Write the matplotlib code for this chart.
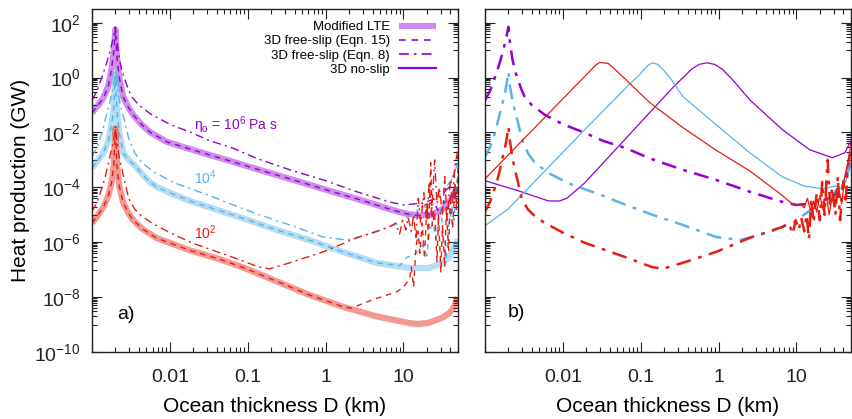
import numpy as np
import matplotlib
matplotlib.use("Agg")
import matplotlib.pyplot as plt
from matplotlib.ticker import FixedLocator, NullFormatter, FuncFormatter
from matplotlib.lines import Line2D

plt.rcParams['font.family'] = ['Liberation Sans', 'DejaVu Sans']
plt.rcParams['mathtext.fontset'] = 'custom'
plt.rcParams['mathtext.rm'] = 'Liberation Sans'

PURPLE = '#9400d3'
BLUE = '#56b4e9'
RED = '#e51e10'

# --- data (log10 of D in km, log10 of heat in GW) ---
# Modified LTE (3D free-slip Eqn. 15 follows these until it breaks away)
lte_purple_lgD = [-3.0, -2.92, -2.85, -2.79, -2.75, -2.72, -2.70, -2.68, -2.65, -2.60, -2.53, -2.47,
                  -2.36, -2.26, -2.04, -1.62, -1.19, -0.76, -0.33, 0.09, 0.53, 0.85, 1.05, 1.2, 1.35,
                  1.5, 1.6, 1.7]
lte_purple_lgP = [-1.28, -1.0, -0.72, -0.3, 0.3, 0.95, 1.75, 0.75, 0.0, -0.70, -1.1, -1.36,
                  -1.72, -1.98, -2.34, -2.71, -3.07, -3.44, -3.80, -4.16, -4.53, -4.82, -4.97, -5.03, -5.0,
                  -4.8, -4.5, -4.0]
lte_blue_lgD = [-3.0, -2.92, -2.85, -2.79, -2.75, -2.72, -2.70, -2.68, -2.65, -2.60, -2.53, -2.47,
                -2.36, -2.26, -2.17, -2.04, -1.74, -1.36, -1.06, -0.63, -0.21, 0.22, 0.65, 1.08, 1.33,
                1.5, 1.59, 1.7]
lte_blue_lgP = [-3.29, -3.0, -2.72, -2.3, -1.75, -1.1, 0.1, -1.2, -2.0, -2.75, -3.0, -3.15,
                -3.5, -3.8, -3.98, -4.15, -4.5, -4.85, -5.13, -5.55, -5.92, -6.35, -6.75, -6.94, -6.94,
                -6.75, -6.54, -5.9]
lte_red_lgD = [-3.0, -2.92, -2.85, -2.79, -2.75, -2.72, -2.70, -2.68, -2.65, -2.60, -2.53, -2.47,
               -2.36, -2.17, -1.74, -1.36, -1.06, -0.63, -0.21, 0.22, 0.65, 1.08, 1.2, 1.33,
               1.5, 1.59, 1.65, 1.7]
lte_red_lgP = [-5.3, -5.0, -4.7, -4.3, -3.85, -3.2, -1.85, -3.2, -3.95, -4.55, -4.95, -5.2,
               -5.5, -5.85, -6.3, -6.62, -6.92, -7.42, -7.92, -8.35, -8.7, -8.95, -8.98, -8.93,
               -8.75, -8.58, -8.35, -8.0]

# 3D free-slip (Eqn. 15): where each curve leaves the LTE curve
fs15_purple_tail_lgD = [1.2, 1.3, 1.36, 1.42, 1.47, 1.52, 1.57, 1.62, 1.66, 1.7]
fs15_purple_tail_lgP = [-5.03, -4.9, -5.1, -4.7, -5.0, -4.5, -4.8, -4.2, -4.4, -3.7]
fs15_blue_tail_lgD = [0.95, 1.04, 1.12, 1.2, 1.25, 1.3, 1.33, 1.38, 1.42, 1.45, 1.48, 1.52, 1.55,
                      1.58, 1.62, 1.65, 1.68, 1.7]
fs15_blue_tail_lgP = [-6.85, -6.55, -6.5, -6.3, -6.1, -6.5, -5.6, -5.3, -5.9, -5.0, -4.8, -6.0, -6.6,
                      -5.4, -4.7, -5.2, -3.9, -3.6]
fs15_red_tail_lgD = [0.33, 0.6, 0.91, 0.99, 1.05, 1.08, 1.1, 1.13, 1.16, 1.19, 1.21, 1.24, 1.27, 1.3,
                     1.32, 1.35, 1.37, 1.4, 1.43, 1.45, 1.48, 1.5, 1.53, 1.55, 1.58, 1.6, 1.63, 1.66,
                     1.68, 1.7]
fs15_red_tail_lgP = [-8.4, -8.1, -7.81, -7.66, -7.45, -7.3, -6.9, -7.63, -6.2, -5.6, -6.4, -5.3, -6.6,
                     -4.6, -6.0, -3.1, -5.4, -4.9, -6.7, -5.0, -7.1, -5.4, -6.9, -4.8, -6.3, -4.3, -5.5,
                     -3.9, -4.8, -3.3]

# 3D free-slip (Eqn. 8)
fs8_purple_lgD = [-3.0, -2.93, -2.87, -2.81, -2.77, -2.74, -2.72, -2.70, -2.68, -2.65, -2.62, -2.59,
                  -2.53, -2.49, -2.40, -2.23, -2.0, -1.72, -1.49, -1.2, -0.88, -0.46, -0.03, 0.4, 0.82,
                  1.0, 1.08, 1.26, 1.46, 1.59, 1.65, 1.7]
fs8_purple_lgP = [-0.83, -0.45, 0.03, 0.55, 0.95, 1.3, 1.55, 1.85, 1.3, 0.7, 0.3, 0.03,
                  -0.45, -0.7, -1.0, -1.36, -1.7, -2.01, -2.3, -2.56, -2.95, -3.36, -3.73, -4.16, -4.53,
                  -4.64, -4.62, -4.57, -4.35, -3.98, -3.5, -2.85]
fs8_blue_lgD = [-3.0, -2.93, -2.87, -2.83, -2.78, -2.74, -2.72, -2.70, -2.68, -2.65, -2.62, -2.57,
                -2.53, -2.45, -2.36, -2.2, -1.94, -1.49, -1.29, -0.88, -0.46, -0.03, 0.27, 0.62, 0.95,
                1.13, 1.25, 1.35, 1.45, 1.55, 1.62, 1.7]
fs8_blue_lgP = [-2.89, -2.5, -2.0, -1.54, -1.0, -0.5, -0.2, 0.21, -0.3, -0.8, -1.17, -1.7,
                -2.2, -2.75, -3.1, -3.45, -3.84, -4.3, -4.53, -4.97, -5.37, -5.81, -5.92, -5.66, -5.3,
                -4.93, -4.7, -4.75, -4.3, -4.0, -3.7, -3.1]
fs8_red_lgD = [-3.0, -2.93, -2.87, -2.83, -2.78, -2.74, -2.72, -2.70, -2.68, -2.65, -2.62, -2.57,
               -2.53, -2.45, -2.36, -2.23, -2.0, -1.72, -1.2, -0.86, -0.72, -0.46, -0.03, 0.4, 0.82,
               0.9, 0.95, 0.99, 1.03, 1.06, 1.1, 1.13, 1.16, 1.19, 1.22, 1.26, 1.3, 1.33, 1.36, 1.4,
               1.43, 1.46, 1.5, 1.53, 1.56, 1.6, 1.63, 1.66, 1.7]
fs8_red_lgP = [-4.89, -4.5, -4.0, -3.62, -3.0, -2.5, -2.2, -1.79, -2.3, -2.9, -3.3, -3.9,
               -4.4, -4.8, -5.05, -5.3, -5.65, -6.02, -6.54, -6.9, -6.97, -6.75, -6.35, -5.84, -5.44,
               -5.3, -5.7, -5.2, -5.55, -5.1, -5.6, -5.0, -5.9, -4.4, -5.3, -4.2, -5.2, -3.8, -5.0, -3.0,
               -4.6, -4.0, -5.0, -3.6, -5.2, -3.8, -4.6, -3.2, -2.6]

# 3D no-slip (panel b)
ns_purple_lgD = [-3.0, -2.6, -2.19, -2.05, -1.95, -1.72, -1.29, -0.59, -0.35, -0.25, -0.15, -0.05,
                 0.05, 0.18, 0.4, 0.82, 1.17, 1.46, 1.62, 1.7]
ns_purple_lgP = [-3.76, -4.1, -4.49, -4.5, -4.4, -3.84, -2.52, -0.37, 0.3, 0.48, 0.54, 0.48,
                 0.3, -0.08, -0.81, -1.9, -2.63, -2.92, -2.74, -2.3]
ns_blue_lgD = [-3.0, -2.7, -1.72, -1.2, -1.0, -0.92, -0.85, -0.78, -0.7, -0.6, -0.46, -0.03, 0.4,
               0.82, 1.1, 1.26, 1.33, 1.45, 1.51, 1.57, 1.63, 1.7]
ns_blue_lgP = [-5.4, -4.78, -1.9, -0.4, 0.15, 0.42, 0.54, 0.48, 0.25, -0.1, -0.69, -1.72, -2.74,
               -3.62, -3.95, -4.02, -4.06, -3.98, -3.95, -4.05, -3.8, -3.2]
ns_red_lgD = [-3.0, -1.58, -1.53, -1.42, -1.35, -1.2, -1.0, -0.88, -0.46, -0.03, 0.4, 0.82, 0.97,
              1.0, 1.05, 1.1, 1.14, 1.18, 1.22, 1.26, 1.3, 1.34, 1.38, 1.42, 1.45, 1.5, 1.54, 1.58,
              1.62, 1.66, 1.7]
ns_red_lgP = [-3.69, 0.45, 0.55, 0.52, 0.35, -0.05, -0.6, -0.92, -1.82, -2.65, -3.4, -4.3, -4.66,
              -4.66, -4.6, -4.75, -4.4, -4.85, -4.5, -4.9, -4.3, -4.8, -4.2, -5.0, -4.4, -4.7, -4.0, -4.6,
              -3.6, -3.1, -2.4]


def P(lg):
    return 10.0 ** np.asarray(lg)


fig = plt.figure(figsize=(8.52, 4.19), dpi=100)
ax1 = fig.add_axes([92 / 852, 1 - 352 / 419, 366 / 852, 343 / 419])
ax2 = fig.add_axes([485 / 852, 1 - 352 / 419, 366 / 852, 343 / 419])

series = [
    (PURPLE, lte_purple_lgD, lte_purple_lgP, fs15_purple_tail_lgD, fs15_purple_tail_lgP,
     fs8_purple_lgD, fs8_purple_lgP, ns_purple_lgD, ns_purple_lgP),
    (BLUE, lte_blue_lgD, lte_blue_lgP, fs15_blue_tail_lgD, fs15_blue_tail_lgP,
     fs8_blue_lgD, fs8_blue_lgP, ns_blue_lgD, ns_blue_lgP),
    (RED, lte_red_lgD, lte_red_lgP, fs15_red_tail_lgD, fs15_red_tail_lgP,
     fs8_red_lgD, fs8_red_lgP, ns_red_lgD, ns_red_lgP),
]

DASH = (0, (4, 3.5))
DASHDOT = (0, (6, 3, 1.5, 3))

for col, lD, lP, tD, tP, d8, p8, nD, nP in series:
    # panel a
    ax1.plot(P(lD), P(lP), color=col, lw=4.5, alpha=0.45, solid_capstyle='butt')
    lD = np.asarray(lD)
    keep = lD < tD[0]
    d15 = np.concatenate([lD[keep], tD])
    p15 = np.concatenate([np.asarray(lP)[keep], tP])
    ax1.plot(P(d15), P(p15), color=col, lw=1.0, linestyle=DASH)
    ax1.plot(P(d8), P(p8), color=col, lw=1.0, linestyle=DASHDOT)
    # panel b
    ax2.plot(P(nD), P(nP), color=col, lw=0.9)
    ax2.plot(P(d8), P(p8), color=col, lw=1.8, linestyle=DASHDOT)

ymaj = [10.0 ** k for k in range(-10, 3, 2)]
ymin = [j * 10.0 ** (k - 1) for k in range(-10, 3, 2) for j in range(1, 10)]
xmaj = [0.001, 0.01, 0.1, 1, 10]
xmin = [j * 10.0 ** k for k in range(-3, 2) for j in range(2, 10)]

for ax in (ax1, ax2):
    ax.set_xscale('log')
    ax.set_yscale('log')
    ax.set_xlim(1e-3, 10 ** 1.7)
    ax.set_ylim(1e-10, 10 ** 2.5)
    ax.xaxis.set_major_locator(FixedLocator(xmaj))
    ax.xaxis.set_minor_locator(FixedLocator(xmin))
    ax.yaxis.set_major_locator(FixedLocator(ymaj))
    ax.yaxis.set_minor_locator(FixedLocator(ymin))
    ax.xaxis.set_major_formatter(FuncFormatter(lambda v, p: '' if v < 0.005 else ('%g' % v)))
    ax.xaxis.set_minor_formatter(NullFormatter())
    ax.yaxis.set_minor_formatter(NullFormatter())
    ax.tick_params(which='both', direction='in', top=True, right=True, width=0.8,
                   labelsize=14, colors='#222222')
    ax.tick_params(which='major', length=7)
    ax.tick_params(axis='x', which='major', pad=12)
    ax.tick_params(axis='y', which='major', pad=8)
    ax.tick_params(which='minor', length=3.5)
    for s in ax.spines.values():
        s.set_linewidth(1.0)
        s.set_color('#222222')
    ax.set_xlabel('Ocean thickness D (km)', fontsize=15, labelpad=8)

ax1.yaxis.set_major_formatter(FuncFormatter(lambda v, p: r'$\mathregular{10^{%d}}$' % round(np.log10(v))))
ax2.yaxis.set_major_formatter(NullFormatter())
ax1.set_ylabel('Heat production (GW)', fontsize=15, labelpad=3)

ax1.text(0.279, 0.662, r'η$_\mathregular{o}$ = 10$^\mathregular{6}$ Pa s', color=PURPLE,
         fontsize=10, transform=ax1.transAxes, va='center')
ax1.text(0.279, 0.507, r'10$^\mathregular{4}$', color=BLUE, fontsize=10,
         transform=ax1.transAxes, va='center')
ax1.text(0.279, 0.347, r'10$^\mathregular{2}$', color=RED, fontsize=10,
         transform=ax1.transAxes, va='center')
ax1.text(0.068, 0.108, 'a)', fontsize=14, transform=ax1.transAxes, va='center')
ax2.text(0.063, 0.114, 'b)', fontsize=14, transform=ax2.transAxes, va='center')

handles = [
    Line2D([], [], color=PURPLE, lw=4.5, alpha=0.45, solid_capstyle='butt'),
    Line2D([], [], color=PURPLE, lw=1.2, linestyle=DASH),
    Line2D([], [], color=PURPLE, lw=1.2, linestyle=DASHDOT),
    Line2D([], [], color=PURPLE, lw=1.6),
]
labels = ['Modified LTE', '3D free-slip (Eqn. 15)', '3D free-slip (Eqn. 8)', '3D no-slip']
ax1.legend(handles, labels, loc='upper right', bbox_to_anchor=(0.94, 0.965), frameon=False,
           markerfirst=False, fontsize=9.5, handlelength=2.8, handletextpad=0.7,
           labelspacing=0.15, borderpad=0, borderaxespad=0)

fig.savefig('out.png', dpi=100)
